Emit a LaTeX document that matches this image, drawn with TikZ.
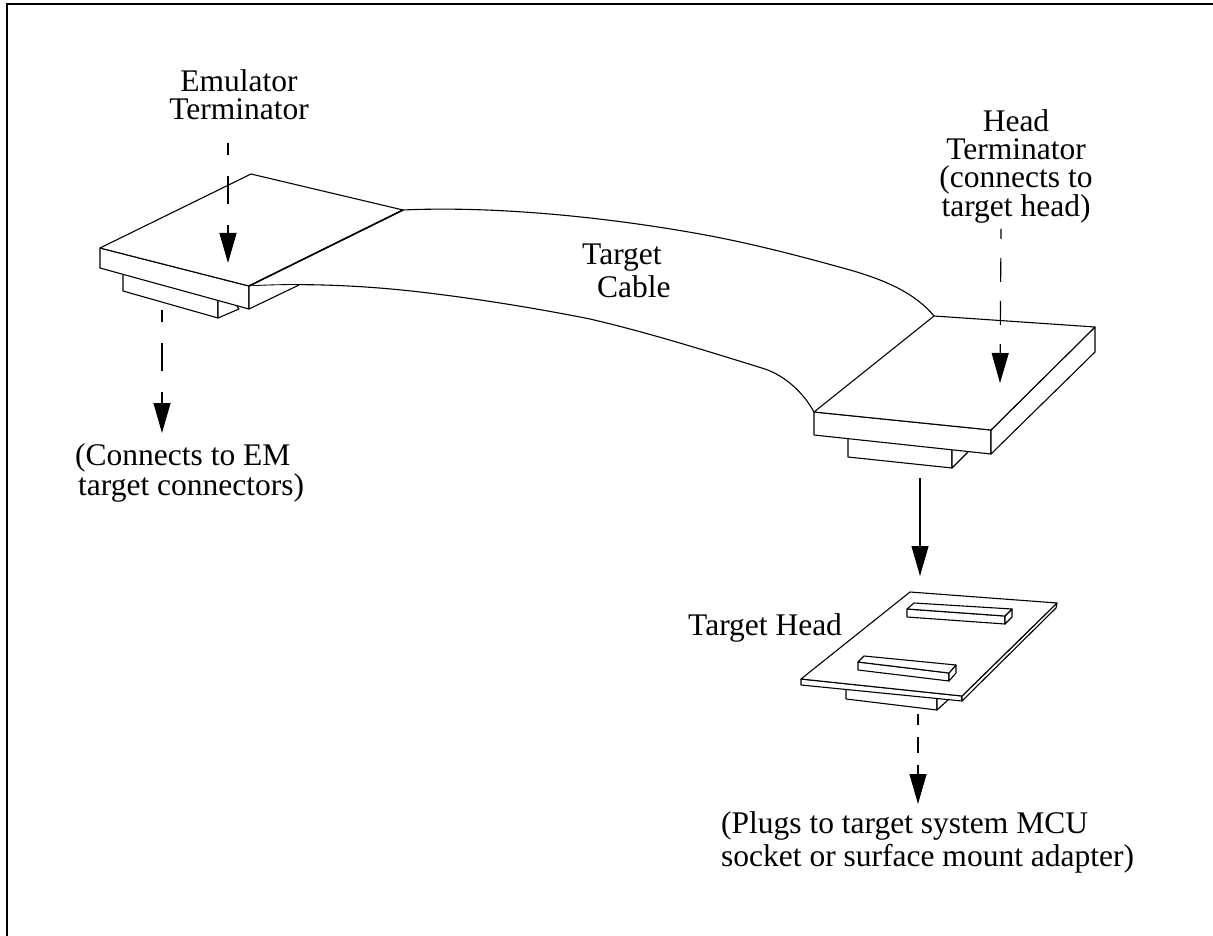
\documentclass[tikz,border=0pt]{standalone}
\usepackage{fontspec}
\setmainfont{Liberation Serif}
\usetikzlibrary{positioning, arrows.meta, calc}
\begin{document}
\begin{tikzpicture}[x=1pt, y=-1pt,
      part/.style={line width=1.1pt, line join=round, fill=white},
      wire/.style={line width=1.1pt},
      lbl/.style={font=\fontsize{31.5}{28}\selectfont, align=center, inner sep=0pt},
      arr/.style={-{Triangle[length=30pt, width=17pt]}, line width=1.1pt},
      dasharr/.style={arr, dash pattern=on 28pt off 21pt, dash phase=16pt}]
    \useasboundingbox (0,0) rectangle (1213,936);
    \draw[line width=1.2pt] (7,936) -- (7,4) -- (1213,4);
    % cable
    \coordinate (emback) at (403,210);
    \coordinate (emfront) at (249,286);
    \coordinate (htback) at (934,316);
    \coordinate (htleft) at (814,412);
    \draw[wire] (emback) .. controls (490,206) and (600,216) .. (700,234) .. controls (750,243) and (800,256) .. (850,270) .. controls (885,280) and (915,293) .. (htback);
    \draw[wire] (emfront) .. controls (300,283) and (360,285) .. (420,292) .. controls (480,299) and (540,309) .. (590,319) .. controls (650,333) and (710,352) .. (765,369) .. controls (785,376) and (803,392) .. (htleft);
    % emulator terminator
    \draw[part] (123,270) -- (123,291) -- (218,318) -- (218,295) -- cycle;
    \draw[part] (218,318) -- (239,309) -- (230,296) -- (218,295) -- cycle;
    \draw[part] (100,248) -- (100,268) -- (249,309) -- (249,286) -- cycle;
    \draw[part] (249,286) -- (249,309) -- (299,285);
    \draw[part] (100,248) -- (251,174) -- (403,210) -- (249,286) -- cycle;
    \draw[line width=1.6pt] (249,286) -- (403,210);
    % head terminator
    \draw[part] (848,432) -- (848,457) -- (952,468) -- (952,443) -- cycle;
    \draw[part] (952,468) -- (968,452) -- (952,443) -- cycle;
    \draw[part] (814,412) -- (814,435) -- (991,454) -- (991,430) -- cycle;
    \draw[part] (991,430) -- (991,454) -- (1095,352) -- (1095,327) -- cycle;
    \draw[part] (814,412) -- (934,316) -- (1095,327) -- (991,430) -- cycle;
    % target head
    \draw[part] (846,685) -- (846,699) -- (937,710) -- (937,695) -- cycle;
    \draw[part] (937,710) -- (948,700) -- (937,695) -- cycle;
    \draw[part] (801,679) -- (801,685) -- (962,701) -- (962,696) -- cycle;
    \draw[part] (962,696) -- (962,701) -- (1056,608) -- (1057,603) -- cycle;
    \draw[part] (801,679) -- (910,592) -- (1057,603) -- (962,696) -- cycle;
    \draw[part] (907,609) -- (907,617) -- (1005,624) -- (1005,616) -- cycle;
    \draw[part] (1005,616) -- (1005,624) -- (1012,617) -- (1012,609) -- cycle;
    \draw[part] (907,609) -- (914,603) -- (1012,609) -- (1005,616) -- cycle;
    \draw[part] (858,662) -- (858,670) -- (949,681) -- (949,673) -- cycle;
    \draw[part] (949,673) -- (949,681) -- (956,673) -- (956,665) -- cycle;
    \draw[part] (858,662) -- (864,656) -- (956,665) -- (949,673) -- cycle;
    % labels
    \node[lbl, anchor=base] (emterm) at (239,120) {Emulator\\Terminator};
    \node[lbl, anchor=base] (headterm) at (1016,217) {Head\\Terminator\\(connects to\\target head)};
    \node[lbl, align=left, anchor=base west] (cable) at (582,297) {Target\\[3pt]\hspace*{15pt}Cable};
    \node[lbl, align=left, anchor=base west] (emconn) at (75,495) {(Connects to EM\\\hspace*{3pt}target connectors)};
    \node[lbl, anchor=base west] (thead) at (688,635) {Target Head};
    \node[lbl, align=left, anchor=base west] (mcu) at (721,866) {(Plugs to target system MCU\\[3pt]socket or surface mount adapter)};
    % connectors
    \coordinate (emstart) at (228,143);
    \coordinate (emtip) at (228,263);
    \coordinate (conn1) at (162,310);
    \coordinate (conn1tip) at (162,433);
    \coordinate (htstart) at (1001,229);
    \coordinate (httip) at (1000,383);
    \coordinate (headtop) at (920,478);
    \coordinate (headtip) at (920,576);
    \coordinate (mcustart) at (918,714);
    \coordinate (mcutip) at (918,804);
    \draw[dasharr] (emstart) -- (emtip);
    \draw[dasharr] (conn1) -- (conn1tip);
    \draw[dasharr, dash pattern=on 24pt off 19pt, dash phase=14pt] (htstart) -- (httip);
    \draw[arr] (headtop) -- (headtip);
    \draw[dasharr, dash pattern=on 16pt off 12pt, dash phase=5pt] (mcustart) -- (mcutip);
\end{tikzpicture}
\end{document}
